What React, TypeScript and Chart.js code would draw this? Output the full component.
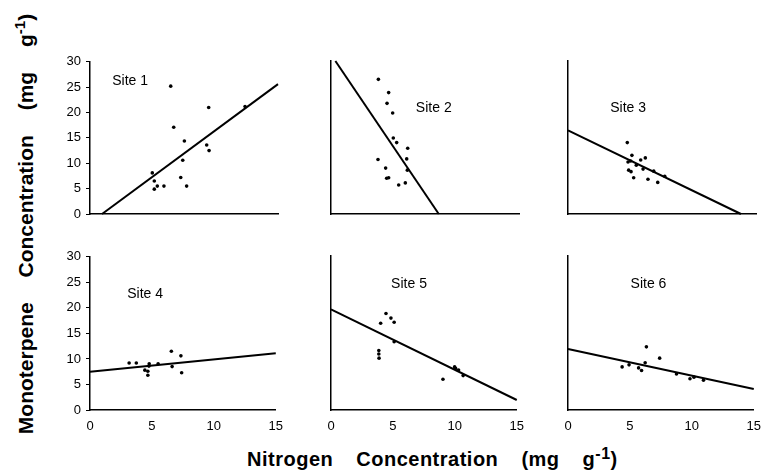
import React, { useEffect, useRef } from "react";
import { Chart, registerables } from "chart.js";

Chart.register(...registerables);

// ---------- data ----------
const siteNames = ["Site 1", "Site 2", "Site 3", "Site 4", "Site 5", "Site 6"];

// Nitrogen (mg g-1) / Monoterpene (mg g-1) per site
const site1N = [6.44, 6.68, 7.53, 7.4, 7.24, 7.71, 4.97, 5.13, 5.13, 5.37, 5.9, 9.47, 9.31, 9.5, 12.37];
const site1M = [25.2, 17.1, 14.4, 10.6, 7.2, 5.5, 8.1, 6.5, 4.9, 5.5, 5.5, 21.0, 13.6, 12.5, 21.2];

const site2N = [3.78, 4.6, 4.47, 4.92, 4.97, 5.24, 6.12, 6.04, 6.09, 3.75, 4.36, 4.44, 4.6, 5.4, 5.93];
const site2M = [26.4, 23.8, 21.7, 19.8, 14.9, 14.0, 12.9, 10.8, 8.6, 10.7, 9.0, 7.0, 7.1, 5.7, 6.1];

const site3N = [4.73, 5.1, 5.0, 4.79, 5.8, 6.17, 5.45, 5.99, 4.84, 5.03, 6.84, 5.24, 6.38, 7.16, 7.72];
const site3M = [14.0, 11.5, 10.4, 10.2, 10.6, 11.0, 9.55, 8.8, 8.6, 8.3, 8.4, 7.1, 6.8, 6.2, 7.4];

const site4N = [3.16, 3.74, 4.78, 4.76, 5.5, 4.43, 4.67, 4.67, 6.57, 7.34, 6.63, 7.4];
const site4M = [9.2, 9.2, 9.07, 8.6, 9.07, 7.8, 7.6, 6.8, 11.5, 10.6, 8.5, 7.3];

const site5N = [4.44, 4.84, 5.1, 4.01, 5.1, 3.86, 3.86, 3.88, 9.04, 9.98, 10.06, 10.3, 10.67];
const site5M = [18.8, 17.9, 17.1, 16.9, 13.3, 11.6, 10.9, 10.1, 6.0, 8.4, 8.1, 7.8, 6.7];

const site6N = [6.33, 7.4, 4.37, 4.93, 5.7, 5.94, 6.23, 8.76, 9.85, 10.17, 10.94];
const site6M = [12.3, 10.1, 8.4, 8.8, 8.2, 7.7, 9.2, 7.0, 6.1, 6.4, 5.8];

const siteN = [site1N, site2N, site3N, site4N, site5N, site6N];
const siteM = [site1M, site2M, site3M, site4M, site5M, site6M];

// fitted regression lines: end points [start, end]
const fitN = [[0.96, 15], [0.35, 8.6], [0, 13.8], [0, 15], [0, 15], [0, 15]];
const fitM = [[0, 25.6], [30, 0], [16.4, 0], [7.5, 11.1], [19.6, 1.95], [11.9, 4.1]];

// site label anchors (in data units)
const labelN = [3.2, 8.2, 4.8, 4.45, 6.3, 6.5];
const labelM = [26.1, 20.8, 20.7, 22.7, 24.5, 24.5];

const xTicks = [0, 5, 10, 15];
const yTicks = [0, 5, 10, 15, 20, 25, 30];

// ---------- layout ----------
const COL_LEFT = [90, 331, 568];
const ROW_TOP = [61, 256];
const ROW_BOTTOM = [214, 410];
const AREA_W = 188;
const AXIS_W = 50;
const AXIS_H = 32;
const PAD_T = 12;
const PAD_R = 14;

const FONT = '"Liberation Sans", Arial, Helvetica, sans-serif';

const siteLabelPlugin = {
  id: "siteLabel",
  afterDatasetsDraw(chart: any, _args: any, opts: any) {
    const { ctx, scales } = chart;
    ctx.save();
    ctx.font = `14px ${FONT}`;
    ctx.fillStyle = "#000";
    ctx.textAlign = "center";
    ctx.textBaseline = "middle";
    ctx.fillText(opts.text, scales.x.getPixelForValue(opts.n), scales.y.getPixelForValue(opts.m));
    ctx.restore();
  },
};

function Panel({ index }: { index: number }) {
  const ref = useRef<HTMLCanvasElement | null>(null);
  const col = index % 3;
  const row = Math.floor(index / 3);
  const areaH = ROW_BOTTOM[row] - ROW_TOP[row];
  const width = AXIS_W + AREA_W + PAD_R;
  const height = PAD_T + areaH + AXIS_H;
  const left = COL_LEFT[col] - AXIS_W;
  const top = ROW_TOP[row] - PAD_T;
  const showX = row === 1;
  const showY = col === 0;

  useEffect(() => {
    if (!ref.current) return;
    const pts = siteN[index].map((n, i) => ({ x: n, y: siteM[index][i] }));
    const line = fitN[index].map((n, i) => ({ x: n, y: fitM[index][i] }));
    const chart = new Chart(ref.current, {
      type: "scatter",
      data: {
        datasets: [
          {
            data: pts,
            showLine: false,
            pointRadius: 1.8,
            pointBackgroundColor: "#000",
            pointBorderWidth: 0,
            clip: false,
          } as any,
          {
            data: line,
            showLine: true,
            pointRadius: 0,
            borderColor: "#000",
            borderWidth: 2,
            clip: false,
          } as any,
        ],
      },
      options: {
        animation: false,
        responsive: false,
        devicePixelRatio: 1,
        layout: { padding: { top: PAD_T, right: PAD_R, left: 0, bottom: 0 } },
        plugins: {
          legend: { display: false },
          tooltip: { enabled: false },
          siteLabel: { text: siteNames[index], n: labelN[index], m: labelM[index] },
        } as any,
        scales: {
          x: {
            type: "linear",
            min: 0,
            max: 15,
            afterBuildTicks: (s: any) => {
              s.ticks = xTicks.map((v) => ({ value: v }));
            },
            afterFit: (s: any) => {
              s.height = AXIS_H;
            },
            ticks: {
              display: showX,
              color: "#000",
              padding: 9,
              autoSkip: false,
              maxRotation: 0,
              font: { family: FONT, size: 13 },
            },
            grid: { display: false, drawTicks: false },
            border: { display: true, color: "#000", width: 1.5 },
          },
          y: {
            type: "linear",
            min: 0,
            max: 30,
            afterBuildTicks: (s: any) => {
              s.ticks = yTicks.map((v) => ({ value: v }));
            },
            afterFit: (s: any) => {
              s.width = AXIS_W;
            },
            ticks: {
              display: showY,
              color: "#000",
              padding: 5,
              autoSkip: false,
              font: { family: FONT, size: 13 },
            },
            grid: showY
              ? { display: true, drawOnChartArea: false, drawTicks: true, tickLength: 4, color: "#000", lineWidth: 1 }
              : { display: false, drawTicks: false },
            border: { display: true, color: "#000", width: 1.5 },
          },
        },
      },
      plugins: [siteLabelPlugin],
    });
    return () => chart.destroy();
  }, [index]);

  return (
    <canvas
      ref={ref}
      width={width}
      height={height}
      style={{ position: "absolute", left, top, width, height }}
    />
  );
}

export default function App() {
  return (
    <div
      style={{
        position: "absolute",
        left: 0,
        top: 0,
        width: 770,
        height: 470,
        background: "#fff",
        overflow: "hidden",
        fontFamily: FONT,
      }}
    >
      {[0, 1, 2, 3, 4, 5].map((i) => (
        <Panel key={i} index={i} />
      ))}
      <div
        style={{
          position: "absolute",
          left: 25,
          top: 224,
          transform: "translate(-50%, -50%) rotate(-90deg)",
          whiteSpace: "nowrap",
          fontWeight: "bold",
          fontSize: 21,
          lineHeight: "21px",
          wordSpacing: 19,
          color: "#000",
        }}
      >
        Monoterpene Concentration (mg g<sup style={{ fontSize: 15, verticalAlign: 8, lineHeight: 0 }}>-1</sup>)
      </div>
      <div
        style={{
          position: "absolute",
          left: 247,
          top: 449,
          whiteSpace: "nowrap",
          fontWeight: "bold",
          fontSize: 20,
          lineHeight: "20px",
          letterSpacing: 0.5,
          wordSpacing: 17,
          color: "#000",
        }}
      >
        Nitrogen Concentration (mg g<sup style={{ fontSize: 16, verticalAlign: 7, lineHeight: 0 }}>-1</sup>)
      </div>
    </div>
  );
}
